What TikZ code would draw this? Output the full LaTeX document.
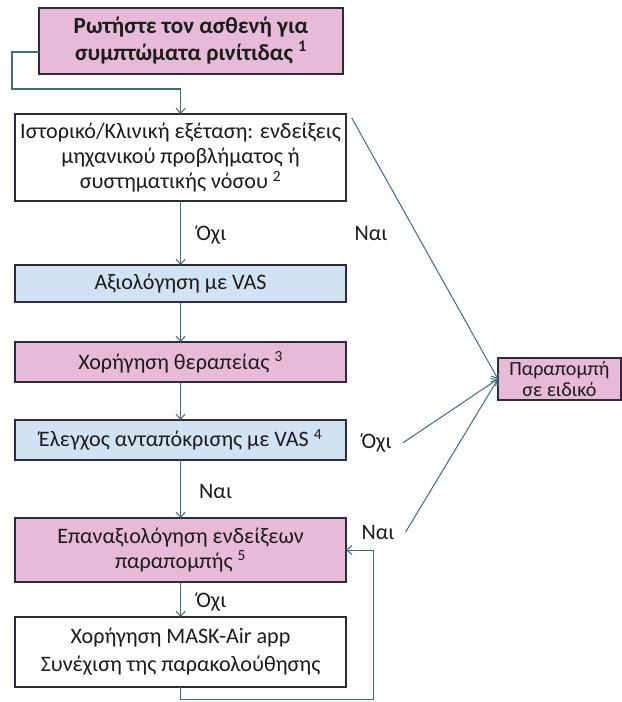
\documentclass[tikz,border=0pt]{standalone}
\usepackage{fontspec}
\setmainfont{Carlito}
\usetikzlibrary{positioning,arrows.meta}
\definecolor{boxpink}{HTML}{E7BAD8}
\definecolor{boxblue}{HTML}{D1E2F2}
\definecolor{edgedark}{HTML}{2E2C3A}
\definecolor{flowteal}{HTML}{3D6E7C}
\definecolor{inktext}{HTML}{1C1C1C}
\tikzset{
    stepbox/.style={
        draw=edgedark, fill=white, line width=1.3pt,
        minimum width=11.585cm, inner sep=1pt, outer sep=0pt,
        font=\fontsize{22}{25}\selectfont, text=inktext, align=center
    },
    pinkbox/.style={stepbox, fill=boxpink},
    bluebox/.style={stepbox, fill=boxblue},
    flowlabel/.style={font=\fontsize{22}{24}\selectfont, text=inktext, inner sep=1pt},
    arrow/.style={-{Straight Barb[length=1.8mm,width=3.2mm]}, line width=1pt, color=flowteal},
}
\begin{document}
\begin{tikzpicture}[node distance=1.4cm]
    \useasboundingbox (0,0) rectangle (21.77,-24.57);
    \node[pinkbox, minimum width=10.64cm, minimum height=2.31cm, font=\fontsize{23}{27}\selectfont\bfseries] (ask) at (6.685,-1.435) {Ρωτήστε τον ασθενή για\\συμπτώματα ρινίτιδας \textsuperscript{1}};
    \node[stepbox, minimum height=3.045cm, below=1.4cm of ask, xshift=-0.365cm] (history) {Ιστορικό/Κλινική εξέταση: ενδείξεις\\μηχανικού προβλήματος ή\\συστηματικής νόσου \textsuperscript{2}};
    \node[bluebox, minimum height=1.295cm, below=2.24cm of history] (vas) {Αξιολόγηση με VAS};
    \node[pinkbox, minimum height=1.4cm, below=1.4cm of vas] (therapy) {Χορήγηση θεραπείας \textsuperscript{3}};
    \node[bluebox, minimum height=1.4cm, below=1.33cm of therapy] (check) {Έλεγχος ανταπόκρισης με VAS \textsuperscript{4}};
    \node[pinkbox, minimum height=2.24cm, below=2.03cm of check] (reassess) {Επαναξιολόγηση ενδείξεων\\παραπομπής \textsuperscript{5}};
    \node[stepbox, minimum height=2.45cm, below=1.225cm of reassess, font=\fontsize{22}{28}\selectfont] (mask) {Χορήγηση MASK-Air app\\Συνέχιση της παρακολούθησης};
    \node[pinkbox, minimum width=4.305cm, minimum height=1.47cm, font=\fontsize{20}{21}\selectfont] (refer) at (19.58,-13.265) {Παραπομπή\\σε ειδικό};
    % side labels
    \node[flowlabel] (yeshist) at (12.985,-8.155) {Ναι};
    \node[flowlabel, right=0.5cm of check, yshift=-0.1cm] (nocheck) {Όχι};
    \node[flowlabel, right=0.5cm of reassess, yshift=0.63cm] (yesre) {Ναι};
    % main column
    \draw[arrow] ([yshift=-0.385cm]ask.west) -- ++(-0.945,0) -- ++(0,-1.295) -| (history.north);
    \draw[arrow] (history) -- node[flowlabel, pos=0.53, right=0.5cm] (nohist) {Όχι} (vas);
    \draw[arrow] (vas) -- (therapy);
    \draw[arrow] (therapy) -- (check);
    \draw[arrow] (check) -- node[flowlabel, pos=0.55, right=0.6cm] (yescheck) {Ναι} (reassess);
    \draw[arrow] (reassess) -- node[flowlabel, pos=0.57, right=0.5cm] (nore) {Όχι} (mask);
    \draw[arrow] (mask.south) -- ++(0,-0.42) -| ([xshift=0.95cm]reassess.east) -- (reassess.east);
    % to referral
    \draw[arrow] ([xshift=0.2cm,yshift=-0.14cm]history.north east) -- (refer.west);
    \draw[arrow] ([xshift=0.35cm]nocheck.east) -- (refer.west);
    \draw[arrow] ([xshift=0.35cm]yesre.east) -- (refer.west);
\end{tikzpicture}
\end{document}
